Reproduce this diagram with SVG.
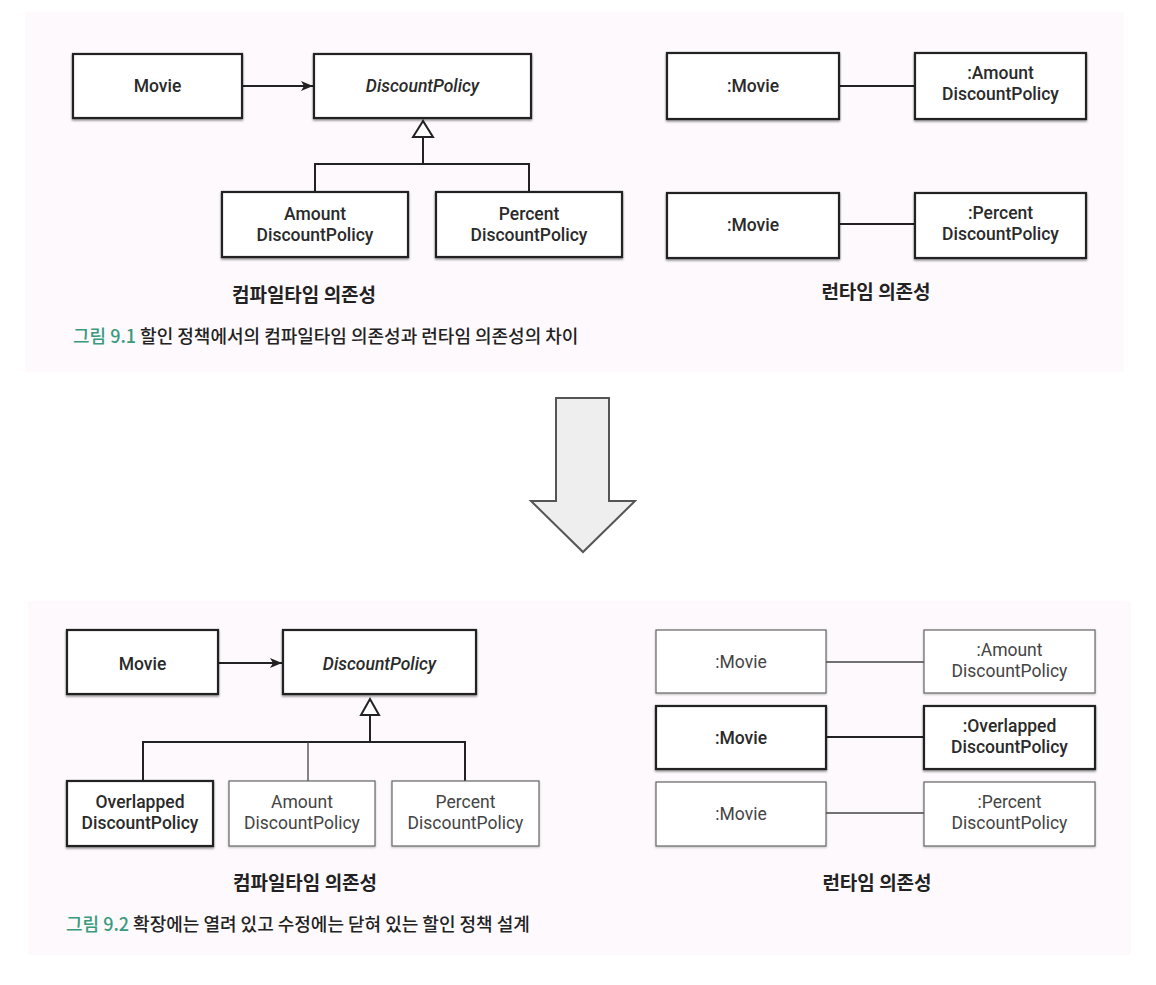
<svg xmlns="http://www.w3.org/2000/svg" width="1156" height="985" viewBox="0 0 1156 985">
<defs>
<style>
.panel{fill:#fdf9fc}
.box{fill:#ffffff;stroke:#222;stroke-width:2.2}
.thin{fill:#ffffff;stroke:#666;stroke-width:1.2}
.t{font-family:Roboto,"Noto Sans",sans-serif;font-size:17.5px;fill:#2a2a2a;text-anchor:middle;font-weight:500}
.tr{font-family:Roboto,"Noto Sans",sans-serif;font-size:17.5px;fill:#444;text-anchor:middle;font-weight:400}
.it{font-style:italic}
.lbl{font-family:"Noto Sans CJK KR",sans-serif;font-size:19px;font-weight:700;fill:#222;text-anchor:middle}
.cap{font-family:"Noto Sans CJK KR",sans-serif;font-size:18px;fill:#222;font-weight:500}
.num{fill:#3a9a7c}
.ln{stroke:#222;stroke-width:2;fill:none}
.lnt{stroke:#444;stroke-width:1.3;fill:none}
</style>
<filter id="sh" x="-10%" y="-10%" width="120%" height="130%">
<feDropShadow dx="0" dy="1.5" stdDeviation="1.2" flood-color="#000" flood-opacity="0.45"/>
</filter>
<filter id="sh2" x="-10%" y="-10%" width="120%" height="130%">
<feDropShadow dx="0" dy="1" stdDeviation="1" flood-color="#000" flood-opacity="0.25"/>
</filter>
<marker id="arr" viewBox="0 0 12 10" refX="12" refY="5" markerWidth="12" markerHeight="10" markerUnits="userSpaceOnUse" orient="auto">
<path d="M0,0 L12,5 L0,10 L3,5 Z" fill="#222"/>
</marker>
</defs>

<rect class="panel" x="25" y="12" width="1099" height="360"/>
<rect class="panel" x="28" y="601" width="1103" height="354"/>

<!-- Figure 9.1 -->
<g id="connectors-91">
<line class="ln" x1="242" y1="86" x2="313" y2="86" marker-end="url(#arr)"/>
<polygon points="423,121 413,137 433,137" fill="#fff" stroke="#222" stroke-width="2"/>
<polyline class="ln" points="423,137 423,164"/>
<polyline class="ln" points="315,192 315,164 529,164 529,192"/>
<line class="ln" x1="839" y1="86" x2="915" y2="86"/>
<line class="ln" x1="839" y1="224" x2="915" y2="224"/>
</g>
<g id="movie1"><rect class="box" filter="url(#sh)" x="73" y="54" width="169" height="64"/><text class="t" x="157.5" y="92">Movie</text></g>
<g id="discount1"><rect class="box" filter="url(#sh)" x="314" y="54" width="217" height="64"/><text class="t it" x="422.5" y="92">DiscountPolicy</text></g>
<g id="amount1"><rect class="box" filter="url(#sh)" x="222" y="192" width="186" height="65"/><text class="t" x="315" y="219.5">Amount</text><text class="t" x="315" y="241">DiscountPolicy</text></g>
<g id="percent1"><rect class="box" filter="url(#sh)" x="436" y="192" width="186" height="65"/><text class="t" x="529" y="219.5">Percent</text><text class="t" x="529" y="241">DiscountPolicy</text></g>
<g id="rmovie1a"><rect class="box" filter="url(#sh)" x="667" y="53" width="172" height="66"/><text class="t" x="753" y="92">:Movie</text></g>
<g id="ramount1"><rect class="box" filter="url(#sh)" x="915" y="53" width="171" height="66"/><text class="t" x="1000.5" y="78.5">:Amount</text><text class="t" x="1000.5" y="100">DiscountPolicy</text></g>
<g id="rmovie1b"><rect class="box" filter="url(#sh)" x="667" y="193" width="172" height="65"/><text class="t" x="753" y="231">:Movie</text></g>
<g id="rpercent1"><rect class="box" filter="url(#sh)" x="915" y="193" width="171" height="65"/><text class="t" x="1000.5" y="218.5">:Percent</text><text class="t" x="1000.5" y="240">DiscountPolicy</text></g>
<text class="lbl" x="304" y="302">컴파일타임 의존성</text>
<text class="lbl" x="876" y="299">런타임 의존성</text>
<text class="cap" x="73" y="343"><tspan class="num">그림 9.1</tspan> 할인 정책에서의 컴파일타임 의존성과 런타임 의존성의 차이</text>

<!-- Big arrow -->
<g id="bigarrow">
<polygon points="556,398 609,398 609,501 635,501 583,552 531,501 556,501" fill="#eeeeee" stroke="#555" stroke-width="2" stroke-linejoin="miter"/>
</g>

<!-- Figure 9.2 -->
<g id="connectors-92">
<line class="ln" x1="218" y1="663" x2="282" y2="663" marker-end="url(#arr)"/>
<polygon points="370,699 361,715 379,715" fill="#fff" stroke="#222" stroke-width="2"/>
<polyline class="ln" points="370,715 370,742"/>
<polyline class="ln" points="143,781 143,742 465,742 465,781"/>
<line class="lnt" x1="308" y1="742" x2="308" y2="781"/>
<line class="lnt" x1="817" y1="662" x2="924" y2="662"/>
<line class="ln" x1="826" y1="737" x2="924" y2="737"/>
<line class="lnt" x1="817" y1="813" x2="924" y2="813"/>
</g>
<g id="movie2"><rect class="box" filter="url(#sh)" x="67" y="630" width="151" height="64"/><text class="t" x="142.5" y="670">Movie</text></g>
<g id="discount2"><rect class="box" filter="url(#sh)" x="283" y="630" width="193" height="64"/><text class="t it" x="379.5" y="670">DiscountPolicy</text></g>
<g id="overlapped2"><rect class="box" filter="url(#sh)" x="67" y="781" width="146" height="65"/><text class="t" x="140" y="807.5">Overlapped</text><text class="t" x="140" y="829">DiscountPolicy</text></g>
<g id="amount2"><rect class="thin" filter="url(#sh2)" x="229" y="781" width="146" height="65"/><text class="tr" x="302" y="807.5">Amount</text><text class="tr" x="302" y="829">DiscountPolicy</text></g>
<g id="percent2"><rect class="thin" filter="url(#sh2)" x="392" y="781" width="147" height="65"/><text class="tr" x="465.5" y="807.5">Percent</text><text class="tr" x="465.5" y="829">DiscountPolicy</text></g>
<g id="rmovie2a"><rect class="thin" filter="url(#sh2)" x="656" y="630" width="170" height="63"/><text class="tr" x="741" y="668">:Movie</text></g>
<g id="ramount2"><rect class="thin" filter="url(#sh2)" x="924" y="630" width="171" height="63"/><text class="tr" x="1009.5" y="655.5">:Amount</text><text class="tr" x="1009.5" y="677">DiscountPolicy</text></g>
<g id="rmovie2b"><rect class="box" filter="url(#sh)" x="656" y="706" width="170" height="63"/><text class="t" x="741" y="744">:Movie</text></g>
<g id="roverlapped2"><rect class="box" filter="url(#sh)" x="924" y="706" width="171" height="63"/><text class="t" x="1009.5" y="731.5">:Overlapped</text><text class="t" x="1009.5" y="753">DiscountPolicy</text></g>
<g id="rmovie2c"><rect class="thin" filter="url(#sh2)" x="656" y="782" width="170" height="64"/><text class="tr" x="741" y="820">:Movie</text></g>
<g id="rpercent2"><rect class="thin" filter="url(#sh2)" x="924" y="782" width="171" height="64"/><text class="tr" x="1009.5" y="807.5">:Percent</text><text class="tr" x="1009.5" y="829">DiscountPolicy</text></g>
<text class="lbl" x="305" y="890">컴파일타임 의존성</text>
<text class="lbl" x="877" y="890">런타임 의존성</text>
<text class="cap" x="66" y="931"><tspan class="num">그림 9.2</tspan> 확장에는 열려 있고 수정에는 닫혀 있는 할인 정책 설계</text>
</svg>
